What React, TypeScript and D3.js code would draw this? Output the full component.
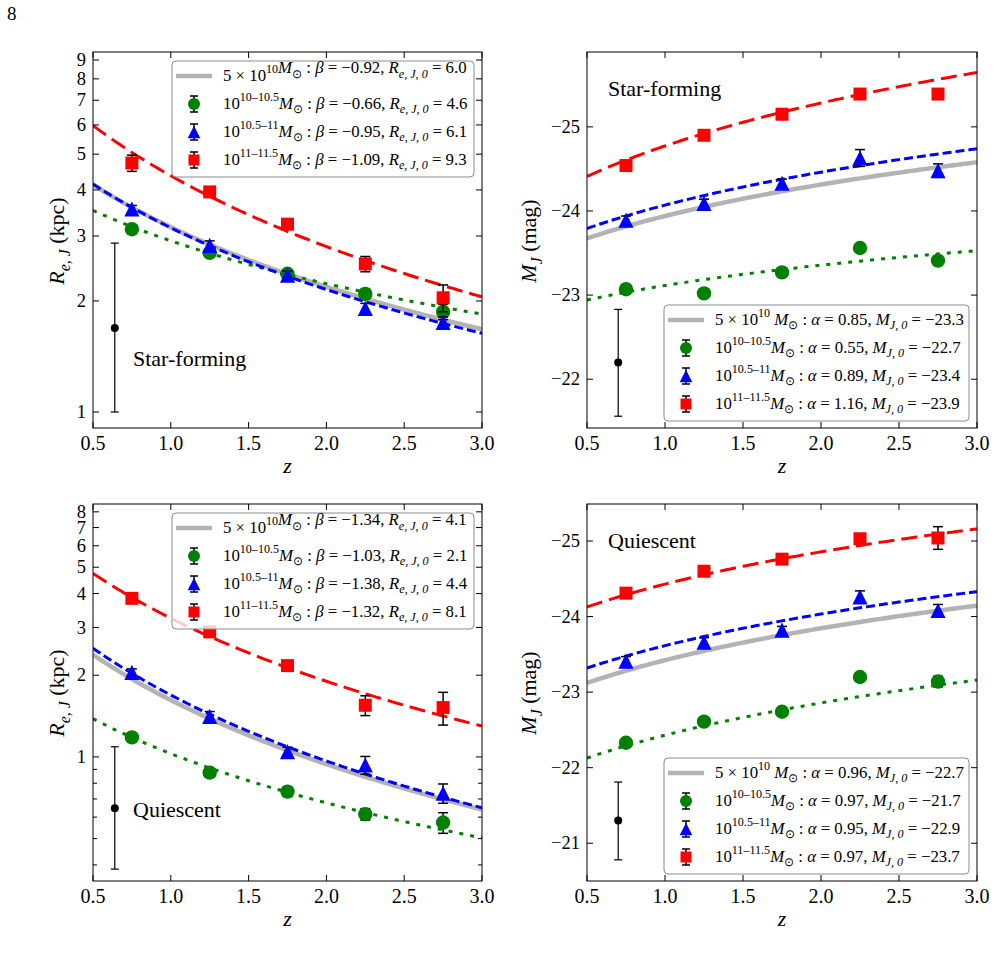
import React, { useEffect, useRef } from 'react';
import * as d3 from 'd3';

// Redshift bin centres shared by every panel
const zBins = [0.75, 1.25, 1.75, 2.25, 2.75];

// Star-forming: effective radius in J (kpc)
const sfReLow = [3.13, 2.7, 2.37, 2.09, 1.87];
const sfReLowErr = [0.06, 0.06, 0.05, 0.06, 0.09];
const sfReMid = [3.55, 2.83, 2.35, 1.91, 1.75];
const sfReMidErr = [0.08, 0.08, 0.06, 0.06, 0.06];
const sfReHigh = [4.73, 3.95, 3.23, 2.52, 2.04];
const sfReHighErr = [0.24, 0.1, 0.1, 0.12, 0.17];
const sfReBeta = [-0.92, -0.66, -0.95, -1.09];
const sfRe0 = [6.0, 4.6, 6.1, 9.3];
const sfReTypical = [0.64, 1.69, 1.0, 2.87]; // z, value, low, high

// Star-forming: absolute J magnitude
const sfMagLow = [-23.07, -23.02, -23.27, -23.56, -23.41];
const sfMagLowErr = [0.05, 0.05, 0.05, 0.05, 0.05];
const sfMagMid = [-23.89, -24.09, -24.33, -24.63, -24.48];
const sfMagMidErr = [0.05, 0.05, 0.05, 0.1, 0.08];
const sfMagHigh = [-24.54, -24.9, -25.15, -25.39, -25.39];
const sfMagHighErr = [0.05, 0.05, 0.05, 0.05, 0.05];
const sfMagAlpha = [0.85, 0.55, 0.89, 1.16];
const sfMag0 = [-23.3, -22.7, -23.4, -23.9];
const sfMagTypical = [0.7, -22.2, -21.56, -22.83];

// Quiescent: effective radius in J (kpc)
const qReLow = [1.18, 0.875, 0.745, 0.615, 0.573];
const qReLowErr = [0.03, 0.03, 0.03, 0.03, 0.05];
const qReMid = [2.05, 1.41, 1.046, 0.934, 0.735];
const qReMidErr = [0.06, 0.06, 0.04, 0.07, 0.06];
const qReHigh = [3.84, 2.89, 2.17, 1.55, 1.52];
const qReHighErr = [0.1, 0.1, 0.08, 0.13, 0.21];
const qReBeta = [-1.34, -1.03, -1.38, -1.32];
const qRe0 = [4.1, 2.1, 4.4, 8.1];
const qReTypical = [0.64, 0.647, 0.386, 1.09];

// Quiescent: absolute J magnitude
const qMagLow = [-22.33, -22.61, -22.74, -23.2, -23.14];
const qMagLowErr = [0.05, 0.05, 0.05, 0.05, 0.07];
const qMagMid = [-23.41, -23.66, -23.82, -24.26, -24.08];
const qMagMidErr = [0.06, 0.06, 0.05, 0.08, 0.08];
const qMagHigh = [-24.31, -24.6, -24.76, -25.03, -25.04];
const qMagHighErr = [0.05, 0.05, 0.05, 0.06, 0.15];
const qMagAlpha = [0.96, 0.97, 0.95, 0.97];
const qMag0 = [-22.7, -21.7, -22.9, -23.7];
const qMagTypical = [0.7, -21.3, -20.78, -21.81];

const massLabels = ['10–10.5', '10.5–11', '11–11.5'];
const xTicks = [0.5, 1.0, 1.5, 2.0, 2.5, 3.0];

const colors = ['#008000', '#0000ff', '#ff0000'];
const dashes = ['4,7', '9,4', '16,7'];
const shapes = ['circle', 'triangle', 'square'];
const GREY = '#b3b3b3';
const FONT = '"Liberation Serif", "Times New Roman", serif';

type Kind = 'size' | 'mag';

interface Panel {
  kind: Kind;
  left: number;
  top: number;
  width: number;
  height: number;
  yDomain: [number, number];
  yTicks: number[];
  yLabels: number[];
  values: number[][];
  errors: number[][];
  slope: number[];
  zero: number[];
  typical: number[];
  title: string;
  titleAt: [number, number];
  legendTop: boolean;
}

const panels: Panel[] = [
  {
    kind: 'size', left: 93, top: 52, width: 389, height: 376,
    yDomain: [0.905, 9.46],
    yTicks: [1, 2, 3, 4, 5, 6, 7, 8, 9], yLabels: [1, 2, 3, 4, 5, 6, 7, 8, 9],
    values: [sfReLow, sfReMid, sfReHigh], errors: [sfReLowErr, sfReMidErr, sfReHighErr],
    slope: sfReBeta, zero: sfRe0, typical: sfReTypical,
    title: 'Star-forming', titleAt: [40, 307], legendTop: true,
  },
  {
    kind: 'mag', left: 587, top: 52, width: 390, height: 376,
    yDomain: [-21.42, -25.89],
    yTicks: [-25, -24, -23, -22], yLabels: [-25, -24, -23, -22],
    values: [sfMagLow, sfMagMid, sfMagHigh], errors: [sfMagLowErr, sfMagMidErr, sfMagHighErr],
    slope: sfMagAlpha, zero: sfMag0, typical: sfMagTypical,
    title: 'Star-forming', titleAt: [21, 37], legendTop: false,
  },
  {
    kind: 'size', left: 93, top: 504, width: 389, height: 377,
    yDomain: [0.349, 8.55],
    yTicks: [0.4, 0.5, 0.6, 0.7, 0.8, 0.9, 1, 2, 3, 4, 5, 6, 7, 8], yLabels: [1, 2, 3, 4, 5, 6, 7, 8],
    values: [qReLow, qReMid, qReHigh], errors: [qReLowErr, qReMidErr, qReHighErr],
    slope: qReBeta, zero: qRe0, typical: qReTypical,
    title: 'Quiescent', titleAt: [40, 306], legendTop: true,
  },
  {
    kind: 'mag', left: 587, top: 504, width: 390, height: 377,
    yDomain: [-20.5, -25.49],
    yTicks: [-25, -24, -23, -22, -21], yLabels: [-25, -24, -23, -22, -21],
    values: [qMagLow, qMagMid, qMagHigh], errors: [qMagLowErr, qMagMidErr, qMagHighErr],
    slope: qMagAlpha, zero: qMag0, typical: qMagTypical,
    title: 'Quiescent', titleAt: [21, 37], legendTop: false,
  },
];

interface Part { t: string; i?: boolean; pos?: 'sup' | 'sub' }

// Appends tspans with super/subscripts, keeping track of the running baseline offset
function rich(text: d3.Selection<SVGTextElement, unknown, null, undefined>, parts: Part[], size: number) {
  let cur = 0;
  parts.forEach(p => {
    const target = p.pos === 'sup' ? -0.45 * size : p.pos === 'sub' ? 0.25 * size : 0;
    text.append('tspan')
      .attr('dy', target - cur)
      .style('font-size', `${p.pos ? size * 0.72 : size}px`)
      .style('font-style', p.i ? 'italic' : 'normal')
      .text(p.t);
    cur = target;
  });
}

const minus = (v: number) => (v < 0 ? '−' + Math.abs(v) : String(v));
const fmt = (v: number, d: number) => minus(Number(v.toFixed(d))).replace(/^(−?\d+)$/, '$1.0');

function markerPath(shape: string, s: number) {
  if (shape === 'circle') return d3.symbol(d3.symbolCircle, Math.PI * s * s)() as string;
  if (shape === 'square') return `M${-s},${-s}H${s}V${s}H${-s}Z`;
  const h = s * 1.05;
  return `M0,${-h}L${h},${h}L${-h},${h}Z`;
}

function fitValue(kind: Kind, slope: number, zero: number, z: number) {
  return kind === 'size' ? zero * Math.pow(1 + z, slope) : zero - 2.5 * slope * Math.log10(1 + z);
}

function label(sel: d3.Selection<SVGGElement, unknown, null, undefined>, x: number, y: number, size: number) {
  return sel.append('text').attr('x', x).attr('y', y)
    .style('font-family', FONT).style('font-size', `${size}px`);
}

function drawPanel(svg: d3.Selection<SVGSVGElement, unknown, null, undefined>, p: Panel, idx: number) {
  const g = svg.append('g').attr('transform', `translate(${p.left},${p.top})`);
  const W = p.width;
  const H = p.height;

  const x = d3.scaleLinear().domain([0.5, 3.0]).range([0, W]);
  const y = p.kind === 'size'
    ? d3.scaleLog().domain(p.yDomain).range([H, 0])
    : d3.scaleLinear().domain(p.yDomain).range([H, 0]);

  const clipId = `clip-${idx}`;
  g.append('clipPath').attr('id', clipId).append('rect').attr('width', W).attr('height', H);
  const plot = g.append('g').attr('clip-path', `url(#${clipId})`);

  // Power-law fits
  const zs = d3.range(0.5, 3.0001, 0.02);
  const line = (k: number) => d3.line<number>()
    .x(z => x(z))
    .y(z => y(fitValue(p.kind, p.slope[k], p.zero[k], z)))(zs);

  plot.append('path').attr('d', line(0)).attr('fill', 'none')
    .attr('stroke', GREY).attr('stroke-width', 4.5);
  [0, 1, 2].forEach(s => {
    plot.append('path').attr('d', line(s + 1)).attr('fill', 'none')
      .attr('stroke', colors[s]).attr('stroke-width', 3)
      .attr('stroke-dasharray', dashes[s]);
  });

  // Data points with error bars
  [0, 1, 2].forEach(s => {
    const vals = p.values[s];
    const errs = p.errors[s];
    zBins.forEach((z, i) => {
      const cx = x(z);
      const y1 = y(vals[i] - errs[i]);
      const y2 = y(vals[i] + errs[i]);
      plot.append('line').attr('x1', cx).attr('x2', cx).attr('y1', y1).attr('y2', y2)
        .attr('stroke', '#000').attr('stroke-width', 1.5);
      [y1, y2].forEach(yy => plot.append('line')
        .attr('x1', cx - 5).attr('x2', cx + 5).attr('y1', yy).attr('y2', yy)
        .attr('stroke', '#000').attr('stroke-width', 1.5));
      plot.append('path').attr('d', markerPath(shapes[s], s === 2 ? 6.5 : 7.2))
        .attr('transform', `translate(${cx},${y(vals[i])})`)
        .attr('fill', colors[s]);
    });
  });

  // Typical uncertainty
  const [tz, tv, tlo, thi] = p.typical;
  const tx = x(tz);
  plot.append('line').attr('x1', tx).attr('x2', tx).attr('y1', y(tlo)).attr('y2', y(thi))
    .attr('stroke', '#000').attr('stroke-width', 1.2);
  [tlo, thi].forEach(v => plot.append('line')
    .attr('x1', tx - 4).attr('x2', tx + 4).attr('y1', y(v)).attr('y2', y(v))
    .attr('stroke', '#000').attr('stroke-width', 1.2));
  plot.append('circle').attr('cx', tx).attr('cy', y(tv)).attr('r', 4).attr('fill', '#000');

  label(g, p.titleAt[0], p.titleAt[1] + 7, 22).text(p.title);

  // Legend
  const lw = p.kind === 'size' ? 302 : 305;
  const lh = 116;
  const lx = W - 8 - lw;
  const ly = p.legendTop ? 9 : H - 7 - lh;
  const leg = g.append('g').attr('transform', `translate(${lx},${ly})`);
  leg.append('rect').attr('width', lw).attr('height', lh).attr('rx', 4)
    .attr('fill', '#fff').attr('fill-opacity', 0.8)
    .attr('stroke', '#8c8c8c').attr('stroke-width', 1);

  const pName = p.kind === 'size' ? 'β' : 'α';
  const qParts: Part[] = p.kind === 'size'
    ? [{ t: 'R', i: true }, { t: 'e, J, 0', i: true, pos: 'sub' }]
    : [{ t: 'M', i: true }, { t: 'J, 0', i: true, pos: 'sub' }];
  const fs = 16.8;
  [0, 1, 2, 3].forEach(r => {
    const ry = 15 + r * 28;
    if (r === 0) {
      leg.append('line').attr('x1', 4).attr('x2', 40).attr('y1', ry).attr('y2', ry)
        .attr('stroke', GREY).attr('stroke-width', 4.5);
    } else {
      const s = r - 1;
      leg.append('line').attr('x1', 22).attr('x2', 22).attr('y1', ry - 8).attr('y2', ry + 8)
        .attr('stroke', '#000').attr('stroke-width', 1.5);
      [ry - 8, ry + 8].forEach(yy => leg.append('line')
        .attr('x1', 18).attr('x2', 26).attr('y1', yy).attr('y2', yy)
        .attr('stroke', '#000').attr('stroke-width', 1.5));
      leg.append('path').attr('d', markerPath(shapes[s], s === 2 ? 5.5 : 6))
        .attr('transform', `translate(22,${ry})`).attr('fill', colors[s]);
    }
    const head: Part[] = r === 0
      ? [{ t: '5 × 10' }, { t: '10', pos: 'sup' }, { t: p.kind === 'mag' ? ' ' : '' }, { t: 'M', i: true }, { t: '⊙', pos: 'sub' }, { t: ' : ' }]
      : [{ t: '10' }, { t: massLabels[r - 1], pos: 'sup' }, { t: 'M', i: true }, { t: '⊙', pos: 'sub' }, { t: ' : ' }];
    const tail: Part[] = [
      { t: pName, i: true }, { t: ' = ' + fmt(p.slope[r], 2) + ', ' },
      ...qParts, { t: ' = ' + fmt(p.zero[r], 1) },
    ];
    const txt = leg.append('text').attr('x', 51).attr('y', ry + 5)
      .style('font-family', FONT).style('white-space', 'pre');
    rich(txt, [...head, ...tail], fs);
  });

  // Frame and ticks (inward, on all four sides)
  g.append('rect').attr('width', W).attr('height', H).attr('fill', 'none')
    .attr('stroke', '#000').attr('stroke-width', 1);

  xTicks.forEach(t => {
    const xx = x(t);
    g.append('line').attr('x1', xx).attr('x2', xx).attr('y1', H).attr('y2', H - 6).attr('stroke', '#000');
    g.append('line').attr('x1', xx).attr('x2', xx).attr('y1', 0).attr('y2', 6).attr('stroke', '#000');
    label(g, xx, H + 22, 20).attr('text-anchor', 'middle').text(t.toFixed(1));
  });

  p.yTicks.forEach(t => {
    const yy = y(t);
    const len = p.yLabels.includes(t) ? 6 : 4;
    g.append('line').attr('x1', 0).attr('x2', len).attr('y1', yy).attr('y2', yy).attr('stroke', '#000');
    g.append('line').attr('x1', W).attr('x2', W - len).attr('y1', yy).attr('y2', yy).attr('stroke', '#000');
  });
  p.yLabels.forEach(t => {
    label(g, -7, y(t), 18.5).attr('dy', '0.33em').attr('text-anchor', 'end').text(minus(t));
  });

  label(g, W / 2, H + 45, 22).attr('text-anchor', 'middle').style('font-style', 'italic').text('z');

  const yl = g.append('text')
    .attr('transform', `translate(${p.kind === 'size' ? -29 : -51},189) rotate(-90)`)
    .attr('text-anchor', 'middle').style('font-family', FONT).style('white-space', 'pre');
  rich(yl, p.kind === 'size'
    ? [{ t: 'R', i: true }, { t: 'e, J', i: true, pos: 'sub' }, { t: ' (kpc)' }]
    : [{ t: 'M', i: true }, { t: 'J', i: true, pos: 'sub' }, { t: ' (mag)' }], 22);
}

export default function App() {
  const svgRef = useRef<SVGSVGElement>(null);

  useEffect(() => {
    if (!svgRef.current) return;
    const svg = d3.select(svgRef.current);
    svg.selectAll('*').remove();

    svg.append('rect').attr('width', 996).attr('height', 964).attr('fill', '#fff');
    svg.append('text').attr('x', 7).attr('y', 20)
      .style('font-family', FONT).style('font-size', '19px').text('8');

    panels.forEach((p, i) => drawPanel(svg, p, i));
  }, []);

  return (
    <div style={{ position: 'absolute', left: 0, top: 0 }}>
      <svg ref={svgRef} width={996} height={964} style={{ display: 'block', fontFamily: FONT }} />
    </div>
  );
}
